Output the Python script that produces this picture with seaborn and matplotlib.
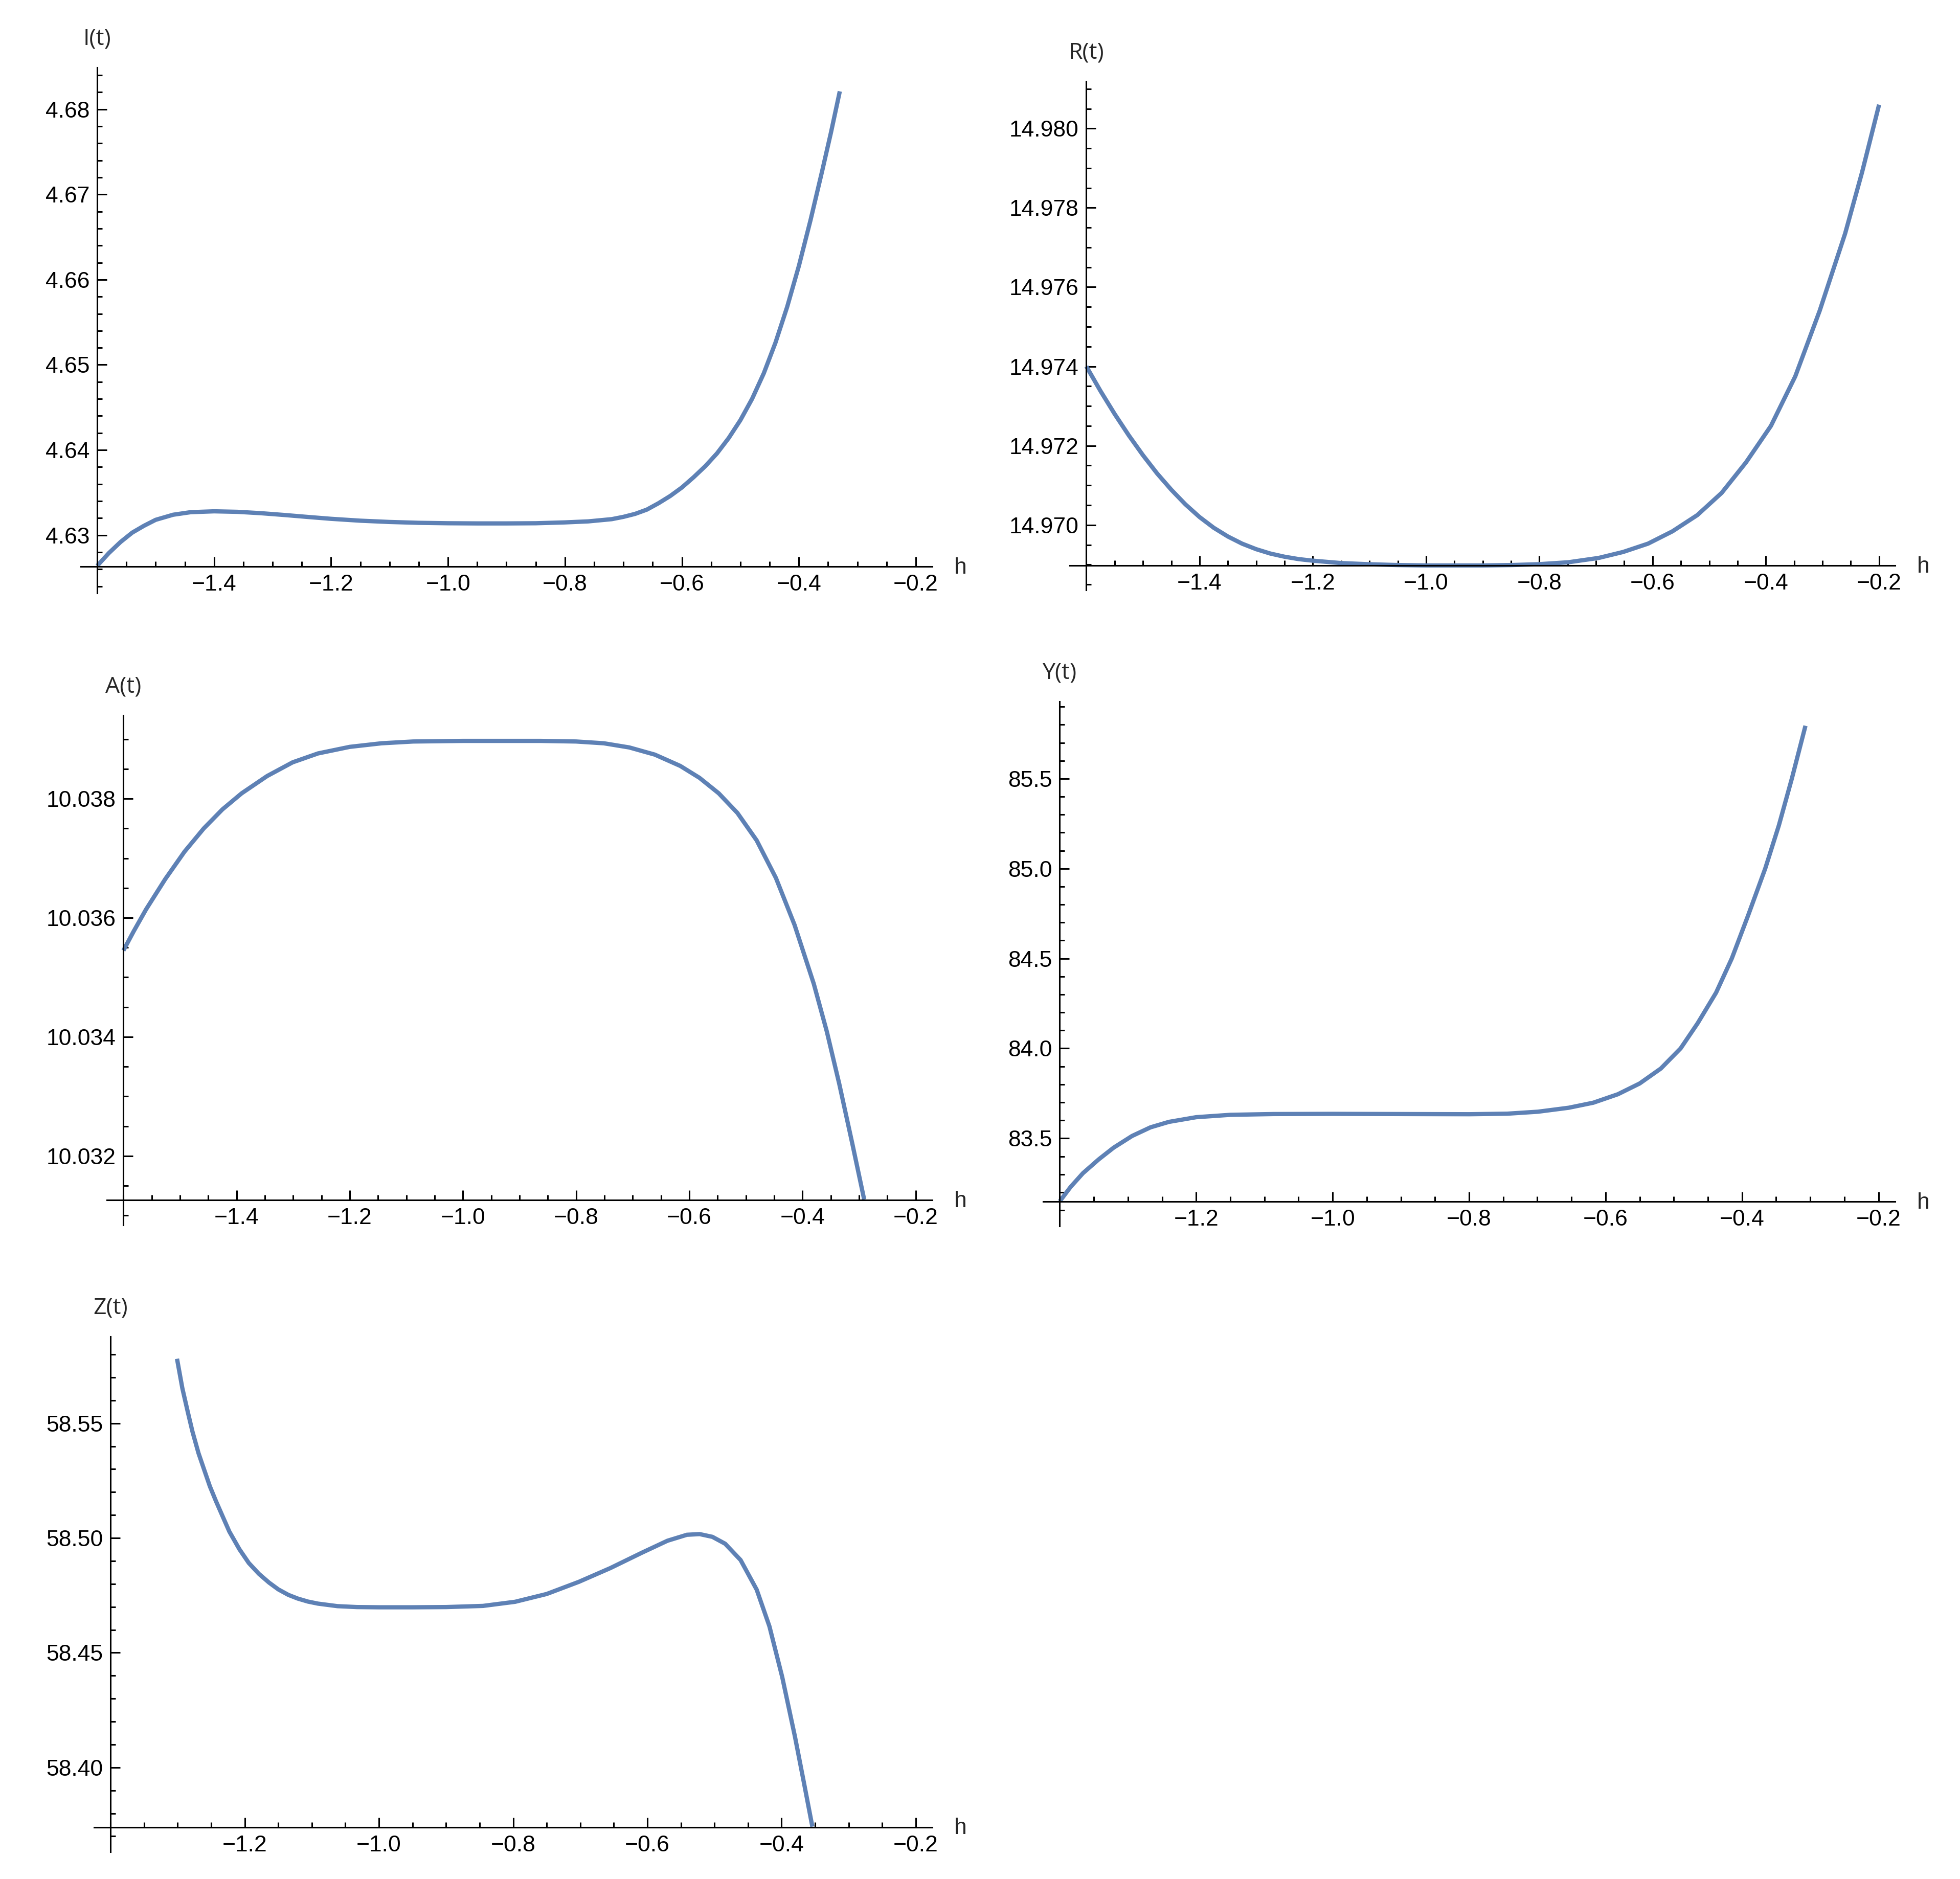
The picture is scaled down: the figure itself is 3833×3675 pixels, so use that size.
import matplotlib
matplotlib.use('Agg')
import matplotlib.pyplot as plt
import seaborn as sns
from matplotlib.ticker import FixedLocator, MultipleLocator, FuncFormatter

# values
I_h = [-1.6, -1.58, -1.56, -1.54, -1.52, -1.5, -1.47, -1.44, -1.4, -1.36, -1.32, -1.28, -1.24,
       -1.2, -1.15, -1.1, -1.05, -1.0, -0.95, -0.9, -0.85, -0.8, -0.76, -0.72, -0.7, -0.68,
       -0.66, -0.64, -0.62, -0.6, -0.58, -0.56, -0.54, -0.52, -0.5, -0.48, -0.46, -0.44, -0.42,
       -0.4, -0.38, -0.36, -0.345, -0.33]
I_v = [4.6264, 4.6279, 4.6292, 4.6303, 4.6311, 4.6318, 4.6324, 4.6327, 4.6328, 4.63274,
       4.63258, 4.63237, 4.63214, 4.63192, 4.6317, 4.63155, 4.63145, 4.6314, 4.63138, 4.63138,
       4.6314, 4.6315, 4.63162, 4.63188, 4.63215, 4.6325, 4.633, 4.63375, 4.6346, 4.6356,
       4.6368, 4.6381, 4.6396, 4.6414, 4.6435, 4.646, 4.649, 4.6526, 4.6568, 4.6616, 4.667,
       4.6728, 4.6773, 4.6821]

R_h = [-1.6, -1.575, -1.55, -1.525, -1.5, -1.475, -1.45, -1.425, -1.4, -1.375, -1.35, -1.325,
       -1.3, -1.275, -1.25, -1.225, -1.2, -1.15, -1.1, -1.05, -1.0, -0.9, -0.85, -0.803, -0.749,
       -0.695, -0.652, -0.608, -0.565, -0.521, -0.478, -0.435, -0.391, -0.348, -0.305, -0.26,
       -0.23, -0.2]
R_v = [14.9740, 14.97338, 14.9728, 14.97226, 14.97176, 14.9713, 14.97089, 14.97052, 14.9702,
       14.96993, 14.96971, 14.96953, 14.96939, 14.96928, 14.9692, 14.96914, 14.9691, 14.96904,
       14.96901, 14.96899, 14.96898, 14.96898, 14.96899, 14.96901, 14.96906, 14.96917, 14.96932,
       14.96953, 14.96984, 14.97025, 14.97081, 14.97158, 14.9725, 14.97375, 14.9754, 14.97735,
       14.9789, 14.9806]

A_h = [-1.6, -1.582, -1.56, -1.526, -1.492, -1.458, -1.425, -1.391, -1.346, -1.301, -1.256,
       -1.2, -1.144, -1.088, -1.0, -0.863, -0.8, -0.751, -0.706, -0.661, -0.616, -0.582, -0.548,
       -0.515, -0.481, -0.447, -0.414, -0.38, -0.357, -0.335, -0.312, -0.291]
A_v = [10.03545, 10.03577, 10.03614, 10.03665, 10.03711, 10.0375, 10.03782, 10.03809, 10.03838,
       10.03861, 10.03876, 10.03887, 10.03893, 10.03896, 10.03897, 10.03897, 10.03896, 10.03893,
       10.03886, 10.03874, 10.03855, 10.03835, 10.03809, 10.03776, 10.0373, 10.03667, 10.03588,
       10.03489, 10.03409, 10.03321, 10.03221, 10.03127]

Y_h = [-1.4, -1.384, -1.366, -1.343, -1.321, -1.294, -1.267, -1.24, -1.2, -1.15, -1.087, -1.0,
       -0.9, -0.8, -0.744, -0.699, -0.654, -0.618, -0.582, -0.55, -0.519, -0.49, -0.465, -0.438,
       -0.415, -0.391, -0.366, -0.346, -0.327, -0.307]
Y_v = [83.1495, 83.23, 83.306, 83.3825, 83.448, 83.513, 83.561, 83.5914, 83.6175, 83.6306,
       83.635, 83.636, 83.635, 83.634, 83.637, 83.648, 83.67, 83.698, 83.745, 83.805, 83.888,
       84.0, 84.14, 84.31, 84.5, 84.74, 85.0, 85.24, 85.5, 85.794]

Z_h = [-1.301, -1.293, -1.285, -1.278, -1.269, -1.26, -1.252, -1.243, -1.234, -1.223, -1.208,
       -1.194, -1.179, -1.164, -1.15, -1.135, -1.121, -1.106, -1.091, -1.062, -1.033, -1.0,
       -0.95, -0.9, -0.845, -0.797, -0.75, -0.702, -0.655, -0.608, -0.57, -0.541, -0.522,
       -0.503, -0.484, -0.461, -0.437, -0.418, -0.399, -0.38, -0.366, -0.354]
Z_v = [58.5781, 58.5652, 58.555, 58.5464, 58.537, 58.5293, 58.5225, 58.5161, 58.5101, 58.5028,
       58.4951, 58.4891, 58.4844, 58.4806, 58.4776, 58.4752, 58.4736, 58.4723, 58.4714, 58.4703,
       58.4699, 58.4698, 58.4698, 58.4699, 58.4704, 58.4722, 58.4756, 58.4809, 58.4869, 58.4936,
       58.4988, 58.5014, 58.5017, 58.5005, 58.4975, 58.4904, 58.4775, 58.4615, 58.4395, 58.4135,
       58.3925, 58.3742]

# tick labels
x_ticks_16 = [-1.4, -1.2, -1.0, -0.8, -0.6, -0.4, -0.2]
x_ticks_14 = [-1.2, -1.0, -0.8, -0.6, -0.4, -0.2]
I_ticks = [4.63, 4.64, 4.65, 4.66, 4.67, 4.68]
R_ticks = [14.970, 14.972, 14.974, 14.976, 14.978, 14.980]
A_ticks = [10.032, 10.034, 10.036, 10.038]
Y_ticks = [83.5, 84.0, 84.5, 85.0, 85.5]
Z_ticks = [58.40, 58.45, 58.50, 58.55]

sns.set_theme(style='white')
plt.rcParams['font.family'] = ['Liberation Sans', 'DejaVu Sans']

W, H = 3833, 3675
fig = plt.figure(figsize=(W / 100, H / 100), dpi=100)
fig.patch.set_facecolor('white')

line_color = '#5E81B5'


def fmt(spec):
    return FuncFormatter(lambda v, pos: (spec % v).replace('-', '\u2212'))


# box = (left, right, top, bottom) in pixels
panels = [
    dict(h=I_h, v=I_v, name='I(t)', box=(158, 1823, 132, 1160), xlim=(-1.628, -0.172),
         ylim=(4.6232, 4.6849), x0=-1.6, y0=4.62634, xt=x_ticks_16, yt=I_ticks, ym=0.002, fmt='%.2f'),
    dict(h=R_h, v=R_v, name='R(t)', box=(2092, 3706, 159, 1154), xlim=(-1.6293, -0.1718),
         ylim=(14.96836, 14.98119), x0=-1.6, y0=14.96898, xt=x_ticks_16, yt=R_ticks, ym=0.0005, fmt='%.3f'),
    dict(h=A_h, v=A_v, name='A(t)', box=(209, 1823, 1399, 2396), xlim=(-1.6292, -0.1708),
         ylim=(10.03084, 10.0394), x0=-1.6, y0=10.03126, xt=x_ticks_16, yt=A_ticks, ym=0.0005, fmt='%.3f'),
    dict(h=Y_h, v=Y_v, name='Y(t)', box=(2040, 3706, 1372, 2398), xlim=(-1.4243, -0.1757),
         ylim=(83.012, 85.929), x0=-1.4, y0=83.1495, xt=x_ticks_14, yt=Y_ticks, ym=0.1, fmt='%.1f'),
    dict(h=Z_h, v=Z_v, name='Z(t)', box=(184, 1823, 2614, 3622), xlim=(-1.4246, -0.1754),
         ylim=(58.3632, 58.5878), x0=-1.4, y0=58.374, xt=x_ticks_14, yt=Z_ticks, ym=0.01, fmt='%.2f'),
]

for p in panels:
    L, R, T, B = p['box']
    ax = fig.add_axes([L / W, 1 - B / H, (R - L) / W, (B - T) / H])
    ax.set_facecolor('white')
    sns.lineplot(x=p['h'], y=p['v'], ax=ax, color=line_color, linewidth=6,
                 solid_capstyle='butt', solid_joinstyle='round', legend=False)
    ax.set_xlim(*p['xlim'])
    ax.set_ylim(*p['ylim'])
    ax.set_xlabel('')
    ax.set_ylabel('')

    ax.spines[['top', 'right']].set_visible(False)
    ax.spines['left'].set_position(('data', p['x0']))
    ax.spines['bottom'].set_position(('data', p['y0']))
    for s in ['left', 'bottom']:
        ax.spines[s].set_color('black')
        ax.spines[s].set_linewidth(2.2)

    ax.xaxis.set_major_locator(FixedLocator(p['xt']))
    ax.xaxis.set_major_formatter(fmt('%.1f'))
    ax.xaxis.set_minor_locator(MultipleLocator(0.05))
    ax.yaxis.set_major_locator(FixedLocator(p['yt']))
    ax.yaxis.set_major_formatter(fmt(p['fmt']))
    ax.yaxis.set_minor_locator(MultipleLocator(p['ym']))

    ax.tick_params(which='both', direction='in', color='black', width=2.2,
                   bottom=True, left=True, top=False, right=False)
    ax.tick_params(which='major', length=13.7, labelsize=32, labelcolor='black')
    ax.tick_params(axis='x', which='major', pad=11)
    ax.tick_params(axis='y', which='major', pad=10.5)
    ax.tick_params(which='minor', length=7.2)

    ax.annotate(p['name'], xy=(p['x0'], 1), xycoords=('data', 'axes fraction'),
                xytext=(0, 40), textcoords='offset points', ha='center', va='center',
                fontsize=32, family=['Open Sans', 'DejaVu Sans'], annotation_clip=False)
    ax.annotate('h', xy=(1, p['y0']), xycoords=('axes fraction', 'data'),
                xytext=(31, -10), textcoords='offset points', ha='left', va='baseline',
                fontsize=32, annotation_clip=False)

fig.savefig('out.png', dpi=100, facecolor='white')
plt.close(fig)
